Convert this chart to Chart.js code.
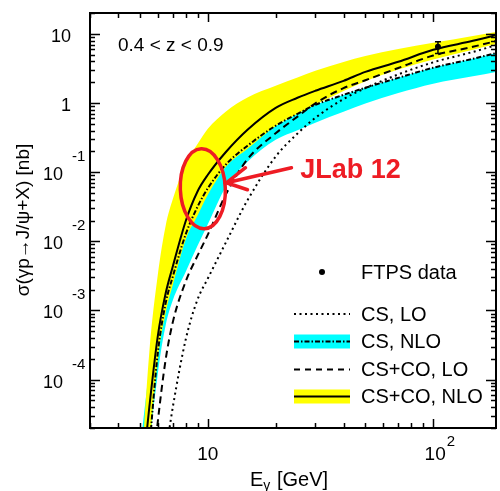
<!DOCTYPE html>
<html>
<head>
<meta charset="utf-8">
<script src="https://cdn.jsdelivr.net/npm/chart.js@4.4.1/dist/chart.umd.min.js"></script>
<style>
  html, body { margin: 0; padding: 0; background: #fff; }
  canvas { display: block; }
</style>
</head>
<body>
<canvas id="xsec" width="500" height="491"></canvas>
<script>
// photon energy grid [GeV] shared by all curves
const energy = [5, 5.5, 6, 6.5, 7, 8, 9, 10, 12, 15, 20, 25, 30, 40, 50, 70, 100, 150, 200];

// sigma [nb] for each calculation
const csLO = [1e-8, 1e-7, 1.5e-6, 8.4e-6, 4.1e-5, 3.96e-4, 1.44e-3, 2.9e-3, 9.5e-3, 0.0393, 0.168, 0.362, 0.61, 1.14, 1.64, 2.59, 3.87, 5.47, 7.2];
const csNLO = [1e-7, 9.3e-6, 2.45e-4, 1.28e-3, 3.14e-3, 0.013, 0.0316, 0.0585, 0.128, 0.241, 0.469, 0.698, 0.94, 1.31, 1.66, 2.31, 3.23, 4.35, 5.5];
const csNLOHigh = [1.0e-5, 1.5e-4, 2.0e-3, 0.01, 0.02, 0.05, 0.08, 0.12, 0.2, 0.3, 0.47, 0.70, 0.94, 1.31, 1.66, 2.31, 3.23, 4.35, 5.5];
const csNLOLow = [1e-8, 7.4e-6, 1.22e-4, 6.1e-4, 1.42e-3, 3.7e-3, 8.6e-3, 0.0177, 0.0607, 0.141, 0.294, 0.405, 0.519, 0.744, 0.98, 1.39, 1.90, 2.43, 2.89];
const cscoLO = [7e-8, 1.5e-6, 2.5e-5, 1.96e-4, 6.9e-4, 2.7e-3, 6.2e-3, 0.0125, 0.047, 0.154, 0.365, 0.636, 0.99, 1.64, 2.13, 3.21, 4.85, 6.49, 8.2];
const cscoNLO = [2e-6, 4.0e-5, 4.3e-4, 1.77e-3, 4.4e-3, 0.0202, 0.0526, 0.0916, 0.194, 0.41, 0.85, 1.19, 1.50, 2.09, 2.82, 3.94, 5.87, 7.92, 10.0];
const cscoNLOHigh = [2.4e-6, 2.5e-4, 3.3e-3, 0.0168, 0.0413, 0.135, 0.255, 0.424, 0.75, 1.2, 1.77, 2.33, 2.93, 3.93, 4.77, 6.01, 7.41, 9.3, 10.9];
const cscoNLOLow = [1e-8, 7.5e-6, 2.03e-4, 9.2e-4, 2.37e-3, 0.0109, 0.0236, 0.047, 0.119, 0.218, 0.466, 0.698, 0.95, 1.49, 2.06, 3.04, 4.27, 5.9, 7.4];

// FTPS measurement
const ftpsEnergy = [105];
const ftpsSigma = [6.5];
const ftpsLow = [5.2];
const ftpsHigh = [7.7];

// axis ticks: [value, base, exponent]
const yTickLabels = [[10, "10", ""], [1, "1", ""], [0.1, "10", "-1"], [0.01, "10", "-2"], [1e-3, "10", "-3"], [1e-4, "10", "-4"]];
const xTickLabels = [[10, "10", ""], [100, "10", "2"]];

const legendRows = ["FTPS data", "CS, LO", "CS, NLO", "CS+CO, LO", "CS+CO, NLO"];

const RED = "rgb(238,28,36)";
const FONT = "'Liberation Sans', Arial, Helvetica, sans-serif";

const pts = arr => energy.map((e, i) => ({ x: e, y: arr[i] }));

function edge(arr, fillColor) {
    return {
        data: pts(arr), borderWidth: 0, pointRadius: 0,
        fill: fillColor ? "+1" : false, backgroundColor: fillColor || "transparent",
        cubicInterpolationMode: "monotone", clip: 0
    };
}

function curve(arr, dash, order) {
    return {
        data: pts(arr), borderColor: "#000", borderWidth: 2, borderDash: dash,
        pointRadius: 0, fill: false, cubicInterpolationMode: "monotone", clip: 0, order
    };
}

const cyanHigh = Object.assign(edge(csNLOHigh, "rgb(0,255,255)"), { order: 9 });
const cyanLow = Object.assign(edge(csNLOLow), { order: 9 });
const yellowHigh = Object.assign(edge(cscoNLOHigh, "rgb(255,255,0)"), { order: 8 });
const yellowLow = Object.assign(edge(cscoNLOLow), { order: 8 });

const decor = {
    id: "decor",
    afterDatasetsDraw(chart) {
        const { ctx, chartArea: a, scales: { x, y } } = chart;
        ctx.save();

        // error bar on the data point
        ctx.strokeStyle = "#000";
        ctx.lineWidth = 1.5;
        ftpsEnergy.forEach((e, i) => {
            const px = x.getPixelForValue(e);
            const lo = y.getPixelForValue(ftpsLow[i]), hi = y.getPixelForValue(ftpsHigh[i]);
            ctx.beginPath();
            ctx.moveTo(px, lo); ctx.lineTo(px, hi);
            ctx.moveTo(px - 3, lo); ctx.lineTo(px + 3, lo);
            ctx.moveTo(px - 3, hi); ctx.lineTo(px + 3, hi);
            ctx.stroke();
        });

        // frame
        ctx.lineWidth = 2;
        ctx.strokeRect(a.left, a.top, a.right - a.left, a.bottom - a.top);

        // ticks on all four sides
        ctx.lineWidth = 1.5;
        ctx.beginPath();
        for (let d = -5; d <= 1; d++) {
            for (let m = 1; m <= 9; m++) {
                const v = m * Math.pow(10, d);
                if (v < y.min || v > y.max) continue;
                const py = Math.round(y.getPixelForValue(v)) + 0.5;
                const len = m === 1 ? 10 : 5;
                ctx.moveTo(a.left, py); ctx.lineTo(a.left + len, py);
                ctx.moveTo(a.right, py); ctx.lineTo(a.right - len, py);
            }
        }
        for (let d = 0; d <= 2; d++) {
            for (let m = 1; m <= 9; m++) {
                const v = m * Math.pow(10, d);
                if (v < x.min || v > x.max) continue;
                const px = Math.round(x.getPixelForValue(v)) + 0.5;
                const len = m === 1 ? 9 : 5;
                ctx.moveTo(px, a.bottom); ctx.lineTo(px, a.bottom - len);
                ctx.moveTo(px, a.top); ctx.lineTo(px, a.top + len);
            }
        }
        ctx.stroke();

        // tick labels
        ctx.fillStyle = "#000";
        ctx.textBaseline = "alphabetic";
        yTickLabels.forEach(([v, base, exp]) => {
            const py = y.getPixelForValue(v);
            ctx.font = `18px ${FONT}`;
            ctx.textAlign = "right";
            if (!exp) {
                ctx.fillText(base, a.left - 19, py + 8);
            } else {
                ctx.fillText(base, a.left - 27, py + 8);
                ctx.font = `15px ${FONT}`;
                ctx.textAlign = "left";
                ctx.fillText(exp, a.left - 18, py - 11);
            }
        });
        xTickLabels.forEach(([v, base, exp]) => {
            const px = x.getPixelForValue(v);
            ctx.font = `19px ${FONT}`;
            ctx.textAlign = "center";
            ctx.fillText(base, px + (exp ? 2 : 0), a.bottom + 32);
            if (exp) {
                const w = ctx.measureText(base).width;
                ctx.font = `15px ${FONT}`;
                ctx.textAlign = "left";
                ctx.fillText(exp, px + 2 + w / 2 + 1, a.bottom + 18);
            }
        });

        // axis titles
        ctx.font = `20px ${FONT}`;
        ctx.textAlign = "left";
        ctx.fillText("E", 250, 486);
        let ex = 250 + ctx.measureText("E").width;
        ctx.font = `14px ${FONT}`;
        ctx.fillText("\u03b3", ex, 490);
        ex += ctx.measureText("\u03b3").width + 1;
        ctx.font = `20px ${FONT}`;
        ctx.fillText(" [GeV]", ex, 486);

        ctx.save();
        ctx.translate(29, 220);
        ctx.rotate(-Math.PI / 2);
        ctx.textAlign = "center";
        ctx.font = `19px ${FONT}`;
        ctx.fillText("\u03c3(\u03b3p\u2192J/\u03c8+X) [nb]", 0, 0);
        ctx.restore();

        // kinematic range
        ctx.font = `19px ${FONT}`;
        ctx.textAlign = "left";
        ctx.fillText("0.4 < z < 0.9", a.left + 28, a.top + 38);

        // legend
        const lx0 = 294, lx1 = 350, tx = 361;
        const rowY = [272, 314, 341.5, 369.5, 396.5];
        ctx.font = `20px ${FONT}`;
        ctx.textBaseline = "middle";
        legendRows.forEach((t, i) => ctx.fillText(t, tx, rowY[i] + 1));

        ctx.beginPath();
        ctx.arc(322, rowY[0], 3, 0, 2 * Math.PI);
        ctx.fill();

        ctx.fillStyle = "rgb(0,255,255)";
        ctx.fillRect(lx0, rowY[2] - 7, lx1 - lx0, 14);
        ctx.fillStyle = "rgb(255,255,0)";
        ctx.fillRect(lx0, rowY[4] - 7, lx1 - lx0, 14);

        const sample = (row, dash) => {
            ctx.setLineDash(dash);
            ctx.lineWidth = 2;
            ctx.beginPath();
            ctx.moveTo(lx0, rowY[row]); ctx.lineTo(lx1, rowY[row]);
            ctx.stroke();
        };
        sample(1, [2, 3.5]);
        sample(2, [5, 2, 1.5, 2]);
        sample(3, [6, 5]);
        sample(4, []);
        ctx.setLineDash([]);

        // JLab 12 reach
        ctx.strokeStyle = RED;
        ctx.fillStyle = RED;
        ctx.lineWidth = 3.5;
        ctx.lineCap = "round";
        ctx.beginPath();
        ctx.ellipse(x.getPixelForValue(9.5), y.getPixelForValue(0.0575), 22.5, 40, -0.04, 0, 2 * Math.PI);
        ctx.stroke();

        const tipX = x.getPixelForValue(12.1), tipY = y.getPixelForValue(0.0703);
        const tailX = x.getPixelForValue(23.5), tailY = y.getPixelForValue(0.116);
        ctx.beginPath();
        ctx.moveTo(tailX, tailY); ctx.lineTo(tipX, tipY);
        ctx.moveTo(tipX + 19, tipY - 15); ctx.lineTo(tipX, tipY); ctx.lineTo(tipX + 21, tipY + 7);
        ctx.stroke();

        ctx.font = `bold 27px ${FONT}`;
        ctx.textBaseline = "alphabetic";
        ctx.fillText("JLab 12", x.getPixelForValue(25.7), y.getPixelForValue(0.083));

        ctx.restore();
    }
};

new Chart(document.getElementById("xsec"), {
    type: "line",
    data: {
        datasets: [
            cyanHigh, cyanLow, yellowHigh, yellowLow,
            curve(csLO, [2, 3.5], 4),
            curve(csNLO, [5, 2, 1.5, 2], 3),
            curve(cscoLO, [7, 4.5], 2),
            curve(cscoNLO, [], 1),
            {
                type: "scatter",
                data: ftpsEnergy.map((e, i) => ({ x: e, y: ftpsSigma[i] })),
                pointRadius: 3, pointBackgroundColor: "#000", pointBorderWidth: 0,
                order: 0
            }
        ]
    },
    options: {
        responsive: false,
        animation: false,
        devicePixelRatio: 1,
        layout: { padding: { left: 90, top: 13, right: 1, bottom: 63 } },
        plugins: { legend: { display: false }, tooltip: { enabled: false } },
        scales: {
            x: { type: "logarithmic", min: 3, max: 190, display: false },
            y: { type: "logarithmic", min: 2e-5, max: 20, display: false }
        }
    },
    plugins: [decor]
});
</script>
</body>
</html>
